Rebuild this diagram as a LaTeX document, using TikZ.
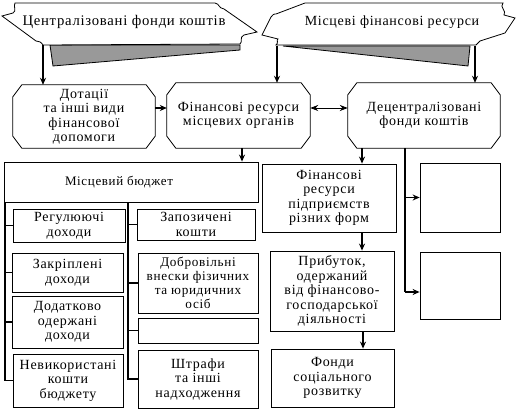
\documentclass[tikz,border=0pt]{standalone}
\usepackage{fontspec}
\setmainfont[LetterSpace=5]{Liberation Serif}
\usetikzlibrary{arrows.meta}
\tikzset{
  box/.style={draw, line width=0.8pt, inner sep=0pt, align=center, font=\fontsize{14}{14.5}\selectfont},
  plain/.style={inner sep=0pt, align=center, font=\fontsize{14}{14.5}\selectfont},
  bantext/.style={inner sep=0pt, font=\fontsize{14.7}{16}\selectfont},
  arr/.style={line width=1.6pt, -{Stealth[length=7pt,width=6pt]}},
  dbl/.style={line width=0.8pt, {Stealth[length=8pt,width=6pt]}-{Stealth[length=8pt,width=6pt]}},
  brk/.style={line width=1.3pt},
  outline/.style={line width=0.8pt},
  shadow/.style={fill=black!40, draw, line width=0.8pt}
}
\newcommand\chbox[1]{\draw[outline] ([xshift=9pt]#1.north west) -- ([xshift=-9pt]#1.north east) -- ([yshift=-12pt]#1.north east) -- ([yshift=12pt]#1.south east) -- ([xshift=-9pt]#1.south east) -- ([xshift=9pt]#1.south west) -- ([yshift=12pt]#1.south west) -- ([yshift=-12pt]#1.north west) -- cycle;}
\begin{document}
\begin{tikzpicture}[x=1pt,y=-1pt]
\useasboundingbox (0,0) rectangle (518,411);
% banners
\draw[shadow] (50,45) -- (240,45) -- (240,50) -- (53,66) -- cycle;
\draw[outline, fill=white] (15,3) -- (215,3) .. controls (220,4) and (218,8) .. (224,9) -- (257,32) -- (244,35) .. controls (239,37) and (243,42) .. (240,44) -- (43,45) .. controls (41,42) and (39,41) .. (36,41) -- (2,16) -- (13,13) .. controls (17,11) and (13,6) .. (15,3) -- cycle;
\node[bantext] (ban1) at (124,22) {Централізовані фонди коштів};
\draw[shadow] (283,46) -- (470,46) -- (468,66) -- cycle;
\draw[outline, fill=white] (305,3) -- (503,3) .. controls (499,7) and (507,11) .. (504,15) -- (515,18) -- (505,33) -- (480,41) .. controls (477,42) and (479,44) .. (476,45) -- (276,45) .. controls (279,43) and (276,40) .. (278,39) -- (262,35) -- (271,17) .. controls (274,15) and (272,14) .. (276,14) -- cycle;
\node[bantext, font=\fontsize{14}{16}\selectfont] (ban2) at (392,22) {Місцеві фінансові ресурси};
\coordinate (b1) at (43,45);
\coordinate (b2l) at (277,46);
\coordinate (b2r) at (475,46);
% row 2
\node[plain, minimum width=142pt, minimum height=63pt] (dot) at (84,116.5) {Дотації\\та інші види\\фінансової\\допомоги};
\chbox{dot}
\node[plain, minimum width=143pt, minimum height=65pt] (fin) at (238.5,115.5) {Фінансові ресурси\\місцевих органів};
\chbox{fin}
\node[plain, minimum width=152pt, minimum height=65pt] (dec) at (424,115.5) {Децентралізовані\\фонди коштів};
\chbox{dec}
% local budget
\node[box, minimum width=254pt, minimum height=40pt] (mb) at (131,182) {};
\node[plain, font=\fontsize{13}{14}\selectfont] (mbt) at (119,182) {Місцевий бюджет};
\node[box, minimum width=112pt, minimum height=33pt] (reg) at (69,225.5) {Регулюючі\\доходи};
\node[box, minimum width=111pt, minimum height=39pt] (zak) at (67.5,272.5) {Закріплені\\доходи};
\node[box, minimum width=111pt, minimum height=52pt] (dod) at (67.5,322) {Додатково\\одержані\\доходи};
\node[box, minimum width=110pt, minimum height=53pt] (nev) at (68,380.5) {Невикористані\\кошти\\бюджету};
\node[box, minimum width=118pt, minimum height=31pt] (zap) at (196,224.5) {Запозичені\\кошти};
\node[box, minimum width=120pt, minimum height=60pt, font=\fontsize{13.2}{14}\selectfont] (dob) at (198,283) {Добровільні\\внески фізичних\\та юридичних\\осіб};
\node[box, minimum width=120pt, minimum height=25pt] (emp1) at (198,330.5) {};
\node[box, minimum width=120pt, minimum height=58pt] (sht) at (198,379) {Штрафи\\та інші\\надходження};
% right part
\node[box, minimum width=134pt, minimum height=68pt] (fr) at (329,198) {Фінансові\\ресурси\\підприємств\\різних форм};
\node[box, minimum width=124pt, minimum height=80pt] (pr) at (332,291) {Прибуток,\\одержаний\\від фінансово-\\господарської\\діяльності};
\node[box, minimum width=123pt, minimum height=58pt] (fs) at (332.5,378) {Фонди\\соціального\\розвитку};
\node[box, minimum width=80pt, minimum height=69pt] (e2) at (460,197.5) {};
\node[box, minimum width=80pt, minimum height=67pt] (e3) at (460,285.5) {};
% banner arrows
\draw[arr] (b1) -- (dot.north -| b1);
\draw[arr] (b2l) -- (fin.north -| b2l);
\draw[arr] (b2r) -- (dec.north -| b2r);
% row arrows
\draw[arr] (dot.east |- 0,108) -- (fin.west |- 0,108);
\draw[dbl] (fin.east |- 0,108) -- (dec.west |- 0,108);
\draw[arr] (fin.south -| 242,0) -- (mb.north -| 242,0);
% brackets under budget
\coordinate (lb) at (5,0);
\draw[brk] (mb.south -| lb) -- (nev.west -| lb) -- (nev.west);
\draw[brk] (reg.west -| lb) -- (reg.west);
\draw[brk] (zak.west -| lb) -- (zak.west);
\draw[brk] (dod.west -| lb) -- (dod.west);
\coordinate (rb) at (128,0);
\draw[brk] (mb.south -| rb) -- (sht.west -| rb) -- (sht.west);
\draw[brk] (zap.west -| rb) -- (zap.west);
\draw[brk] (dob.west -| rb) -- (dob.west);
\draw[brk] (emp1.west -| rb) -- (emp1.west);
% enterprises chain
\draw[arr] (dec.south -| 362,0) -- (fr.north -| 362,0);
\draw[arr] (fr.south -| 362,0) -- (pr.north -| 362,0);
\draw[arr] (pr.south -| 363,0) -- (fs.north -| 363,0);
% decentral branch
\coordinate (db) at (405,292);
\draw[brk] (dec.south -| db) -- (db);
\draw[arr] (e2.west -| db) -- (e2.west);
\draw[arr] (db) -- (e3.west |- db);
\end{tikzpicture}
\end{document}
